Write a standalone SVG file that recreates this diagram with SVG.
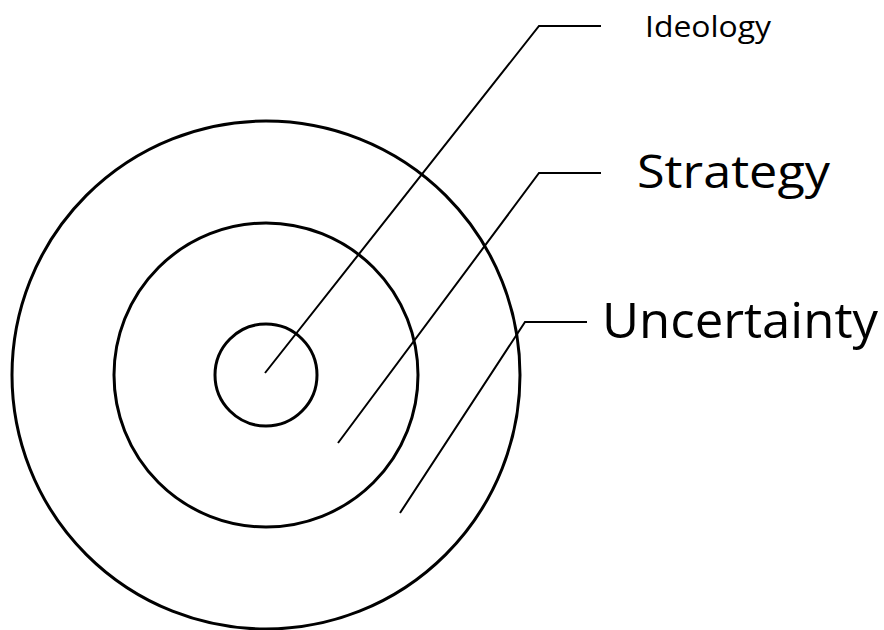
<svg xmlns="http://www.w3.org/2000/svg" width="884" height="630" viewBox="0 0 884 630">
  <style>
    .ring { fill: none; stroke: #000; stroke-width: 3; }
    .leader { fill: none; stroke: #000; stroke-width: 2; stroke-linejoin: miter; }
    .label { font-family: "Open Sans", "Noto Sans", "Liberation Sans", sans-serif; fill: #000; }
  </style>
  <rect width="884" height="630" fill="#fff"/>

  <g id="uncertainty-ring">
    <circle class="ring" cx="266" cy="375" r="254"/>
  </g>
  <g id="strategy-ring">
    <circle class="ring" cx="266" cy="375" r="152"/>
  </g>
  <g id="ideology-ring">
    <circle class="ring" cx="266" cy="375" r="51"/>
  </g>

  <g id="connectors">
    <polyline class="leader" points="265,373 539,26 601,26"/>
    <polyline class="leader" points="338,443 539,173 601,173"/>
    <polyline class="leader" points="400,513 525,322 587,322"/>
  </g>

  <g id="labels">
    <text class="label" x="645" y="37" font-size="29" textLength="126" lengthAdjust="spacingAndGlyphs">Ideology</text>
    <text class="label" x="637" y="188" font-size="45" textLength="193" lengthAdjust="spacingAndGlyphs">Strategy</text>
    <text class="label" x="602" y="338" font-size="49" textLength="276" lengthAdjust="spacingAndGlyphs">Uncertainty</text>
  </g>
</svg>
